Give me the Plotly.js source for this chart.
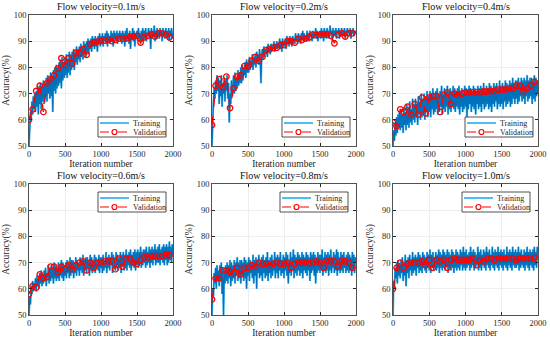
<!DOCTYPE html>
<html><head><meta charset="utf-8">
<script src="https://cdn.plot.ly/plotly-3.0.1.min.js"></script>
<style>html,body{margin:0;padding:0;background:#fff}#c{width:550px;height:339px}</style>
</head><body><div id="c"></div>
<script>
const titles = ["Flow velocity=0.1m/s","Flow velocity=0.2m/s","Flow velocity=0.4m/s","Flow velocity=0.6m/s","Flow velocity=0.8m/s","Flow velocity=1.0m/s"];
const seriesNames = ["Training","Validation"];
const trainStep = 10;
const valStep = 50;
const xTickVals = [0,500,1000,1500,2000];
const yTickVals = [50,60,70,80,90,100];

const train01 = [50,58,63,60,67,62,69,64,70,63, 71,65,73,62,72,66,74,64,73,67, 75,66,74,69,76,67,77,70,76,68, 78,69,77,63,79,71,80,70,81,72,
80,73,82,74,83,72,84,75,82,76, 84,77,85,76,83,78,86,77,85,79, 86,80,87,79,86,82,88,81,87,83, 88,82,89,84,88,83,90,85,89,84,
90,86,91,85,90,87,91,86,92,88, 91,87,92,88,91,86,92,89,93,88, 92,89,93,88,92,90,93,89,94,88, 93,90,92,89,94,90,93,88,94,91,
93,90,94,89,93,91,94,90,93,89, 94,91,93,88,94,90,95,91,93,89, 94,87,93,91,95,90,94,88,93,91, 94,90,95,91,93,89,94,91,95,90,
94,91,95,90,93,92,95,91,94,87, 95,91,94,92,96,90,94,91,95,92, 94,91,95,92,94,90,95,92,94,91, 95,92,94,91,95,90,94,92,95,91, 93];
const train02 = [50,62,67,72,68,75,70,77,71,76, 66,75,69,77,65,74,70,76,67,75, 71,77,68,74,59,70,66,75,69,73, 77,70,78,71,76,72,79,73,78,74,
80,74,81,75,80,77,82,76,83,78, 82,78,84,79,83,80,85,79,84,81, 85,80,86,82,85,81,87,83,74,84, 87,83,88,84,87,85,88,84,89,86,
88,85,89,86,88,87,90,86,89,87, 90,87,89,88,91,87,90,86,91,88, 90,88,91,87,92,89,91,88,92,89, 91,88,92,90,91,89,93,90,92,89,
93,90,92,89,93,91,94,90,93,91, 92,90,94,91,93,90,94,92,93,90, 94,91,93,92,95,91,94,90,93,92, 94,91,95,92,94,90,95,92,94,91,
95,92,94,91,96,93,94,90,95,92, 94,92,95,91,94,93,95,91,94,92, 95,92,94,93,95,91,94,92,95,93, 94,92,95,91,94,93,95,92,94,93, 94];
const train04 = [50,56,52,59,54,61,55,62,57,63, 56,64,57,62,55,65,58,63,56,66, 58,65,57,67,59,64,58,68,60,66, 59,68,61,66,58,69,62,67,60,70,
61,68,62,70,60,69,63,71,61,69, 63,71,61,70,64,72,62,69,63,71, 64,72,62,70,63,71,65,73,62,70, 64,72,63,71,65,73,62,71,64,72,
63,71,65,73,64,72,63,71,65,72, 64,73,62,71,65,72,63,70,64,73, 65,72,61,71,64,73,66,72,63,71, 65,73,64,72,62,71,66,73,64,72,
65,73,63,72,66,74,64,71,65,73, 66,72,64,74,65,73,63,72,66,74, 65,73,67,74,64,72,66,75,65,73, 66,74,64,73,67,75,65,74,66,73,
67,75,65,74,66,76,68,74,66,75, 68,75,66,76,67,74,69,76,67,75, 68,76,66,75,69,77,67,75,68,76, 69,76,66,75,68,77,67,76,69,75, 70];
const train06 = [50,57,54,61,58,63,59,62,60,64, 59,65,61,64,60,66,62,67,61,65, 62,67,63,68,61,66,64,69,62,68, 63,69,64,68,62,70,64,69,63,68,
64,70,63,69,65,71,64,70,63,69, 65,70,64,71,66,70,64,72,65,71, 66,71,64,70,66,72,65,71,67,70, 65,72,67,71,66,73,65,71,67,72,
66,72,68,71,65,73,67,72,66,71, 67,73,66,72,68,71,67,73,66,72, 68,72,66,73,67,71,68,74,66,72, 68,73,67,72,69,74,66,73,68,72,
67,74,69,73,67,72,68,74,66,73, 69,74,67,73,68,75,67,73,69,74, 68,75,67,73,69,74,68,75,67,74, 69,75,68,74,70,76,68,74,69,75,
70,75,68,76,69,74,70,76,68,75, 70,76,69,75,71,77,69,75,70,76, 70,77,69,75,71,76,70,77,69,76, 71,77,69,76,70,78,71,76,70,77, 73];
const train08 = [50,60,57,66,62,68,60,69,63,67, 61,69,63,70,58,68,50,67,62,69, 63,70,62,69,64,71,61,70,63,69, 64,71,62,70,65,72,63,70,64,71,
62,71,65,70,63,72,64,71,60,70, 65,72,63,71,66,70,64,73,62,71, 65,72,60,71,66,73,64,70,65,72, 63,73,66,71,64,72,65,74,63,71,
66,72,64,73,65,71,67,74,64,72, 66,73,64,72,67,74,65,71,66,73, 64,72,67,74,65,73,62,71,66,74, 65,72,67,75,64,73,66,72,65,74,
67,73,65,72,66,74,64,73,67,72, 66,74,65,73,67,72,63,74,66,73, 67,74,65,73,62,72,66,74,67,73, 66,73,67,75,65,72,67,74,66,73,
67,74,65,73,67,75,66,72,68,74, 66,73,67,75,65,74,67,72,66,74, 67,73,66,74,68,72,66,73,67,74, 66,73,67,72,65,74,67,73,66,72, 70];
const train10 = [50,63,60,68,64,70,62,71,65,69, 64,71,66,72,63,70,65,73,61,71, 66,72,64,73,67,71,65,74,66,72, 67,73,65,72,68,74,66,73,67,72,
66,74,68,73,67,72,66,74,68,73, 67,75,66,73,68,74,67,72,68,74, 67,73,68,75,66,74,68,73,67,75, 68,74,67,73,69,75,66,74,68,73,
67,75,68,74,66,73,68,75,67,74, 68,73,67,75,69,74,67,76,68,74, 67,75,68,73,69,74,67,76,68,74, 69,75,67,74,68,73,69,76,67,74,
68,75,67,73,69,75,68,74,67,76, 69,74,68,75,67,73,69,76,68,74, 67,75,69,74,68,76,67,74,69,75, 68,74,67,75,69,73,68,76,67,74,
69,75,68,74,67,76,69,74,68,75, 68,74,69,76,67,74,68,75,69,73, 68,75,67,74,69,76,68,74,67,75, 69,74,68,75,67,76,69,74,68,76, 72];

const val01 = [60,64,71,73,63,74,75.5,77,79.5,83.5,81,83.5,81.5,85.5,85.5,87,84.8,89,89.5,89.8,90,90.2,90.5,90,90.5,91,91,91,91.5,91.8,92,89.5,91.5,92,92.5,91.8,93,93,92.5,91.5];
const val02 = [58,73,75.5,72.5,76.5,64.5,72,76.5,77,80.5,80.5,82.5,84,82.5,84,86.5,87,87.5,87.5,88.5,88.5,90,90,89.5,91,90.5,91,91.5,92.5,92.3,92.5,92.5,92.5,92,89.2,92.5,93,91.8,93,93];
const val04 = [59,57.5,64,63,65,62,66,62,68.5,62.5,68.5,69,69,63,69.5,70.5,66,70,69.5,70,70.5,70.5,70.5,70.5,70.5,70.8,70.8,71,71,71.5,71.5,71.5,72,72,73,73,71,72,73,74.5];
const val06 = [58,61,60.5,65.5,64,64.5,68.5,68.5,66.5,68.5,67.5,69,67.5,69,70,70.5,67,70,68,70,70,70.5,70.5,70.5,67.5,71.5,68.5,71.5,71.5,70,69.5,71,72,72,72.5,72.5,72.5,72.5,73,72.8];
const val08 = [56,64,64,67,67,66.5,66,68,65.5,68,68,69,68.5,70,69.5,69.5,69,69.5,70,69.5,69.5,70,68,69.5,70,70,70,69.8,70,70.5,70,68,70.5,70.5,70.5,68.5,70.5,70.5,70,68];
const val10 = [60,68,70,68,69.5,70,70,70,70.5,69,71,68,71,70.5,71,68,71,71.5,71,71,71,71,71.5,69,71,70.5,71.5,71.5,71,71.5,71.5,71.5,71.5,71.5,71,71.5,71.5,71.5,71.5,71.8];

const trains = [train01,train02,train04,train06,train08,train10];
const vals = [val01,val02,val04,val06,val08,val10];

const W = 550, H = 339;
const colsPx = [[29,173],[212,356],[393,538]];
const rowsPx = [[15,146],[184,315]];
const legendBox = [[98,117],[282,117],[465,117],[98,192],[280,192],[462,192]];
const legW = 68, legH = 20;
const FONT = 'Liberation Serif, Times New Roman, serif';
const LIGHT = '#4DBEEE', DARK = '#0072BD', RED = '#FF0000', INK = '#262626';

const px = v => v / W, py = v => (H - v) / H;
const traces = [];
const layout = {
  width: W, height: H, margin:{l:0,r:0,t:0,b:0},
  paper_bgcolor:'#fff', plot_bgcolor:'#fff', showlegend:false,
  font:{family:FONT, size:9, color:INK}, annotations:[], shapes:[]
};
for (let i=0;i<6;i++){
  const r = Math.floor(i/3), c = i%3;
  const sfx = i===0 ? '' : String(i+1);
  const xa = 'x'+sfx, ya = 'y'+sfx;
  const tx = trains[i].map((_,k)=>k*trainStep);
  const vx = vals[i].map((_,k)=>k*valStep);
  traces.push({x:tx,y:trains[i],xaxis:xa,yaxis:ya,type:'scatter',mode:'lines',name:seriesNames[0],
    line:{color:LIGHT,width:2.0}});
  traces.push({x:tx,y:trains[i],xaxis:xa,yaxis:ya,type:'scatter',mode:'lines',name:seriesNames[0],
    line:{color:DARK,width:1.1}});
  traces.push({x:vx,y:vals[i],xaxis:xa,yaxis:ya,type:'scatter',mode:'lines+markers',name:seriesNames[1],
    line:{color:RED,width:1.3,dash:'dash'},marker:{symbol:'circle-open',size:5.5,color:RED,line:{width:1.3}}});
  const common = {ticks:'inside', ticklen:3, tickcolor:INK, showline:true, linecolor:INK, linewidth:0.8,
    mirror:'ticks', showgrid:true, gridcolor:'#e3e3e3', gridwidth:0.6, zeroline:false,
    tickfont:{family:FONT,size:8.5,color:INK}};
  layout['xaxis'+sfx] = Object.assign({}, common, {
    domain:[px(colsPx[c][0]), px(colsPx[c][1])], anchor:ya, range:[0,2000], tickvals:xTickVals,
    title:{text:'Iteration number', font:{family:FONT,size:9.5,color:INK}, standoff:1}});
  layout['yaxis'+sfx] = Object.assign({}, common, {
    domain:[py(rowsPx[r][1]), py(rowsPx[r][0])], anchor:xa, range:[50,100], tickvals:yTickVals,
    title:{text:'Accuracy(%)', font:{family:FONT,size:9.5,color:INK}, standoff:2}});
  layout.annotations.push({text:titles[i], xref:'paper', yref:'paper',
    x:px((colsPx[c][0]+colsPx[c][1])/2), y:py(rowsPx[r][0]-1), xanchor:'center', yanchor:'bottom',
    showarrow:false, font:{family:FONT,size:10,color:'#111'}});
  const [L,T] = legendBox[i];
  layout.shapes.push({type:'rect', xref:'paper', yref:'paper', x0:px(L), x1:px(L+legW), y0:py(T), y1:py(T+legH),
    line:{color:INK,width:0.8}, fillcolor:'#fff', layer:'above'});
  layout.shapes.push({type:'line', xref:'paper', yref:'paper', x0:px(L+2), x1:px(L+31), y0:py(T+6), y1:py(T+6),
    line:{color:LIGHT,width:2}, layer:'above'});
  layout.shapes.push({type:'line', xref:'paper', yref:'paper', x0:px(L+2), x1:px(L+31), y0:py(T+15), y1:py(T+15),
    line:{color:RED,width:1.2,dash:'dash'}, layer:'above'});
  layout.shapes.push({type:'circle', xref:'paper', yref:'paper', x0:px(L+14), x1:px(L+19), y0:py(T+12.5), y1:py(T+17.5),
    line:{color:RED,width:1.2}, fillcolor:'rgba(0,0,0,0)', layer:'above'});
  layout.annotations.push({text:seriesNames[0], xref:'paper', yref:'paper', x:px(L+33), y:py(T+6),
    xanchor:'left', yanchor:'middle', showarrow:false, font:{family:FONT,size:8,color:INK}});
  layout.annotations.push({text:seriesNames[1], xref:'paper', yref:'paper', x:px(L+33), y:py(T+15),
    xanchor:'left', yanchor:'middle', showarrow:false, font:{family:FONT,size:8,color:INK}});
}
Plotly.newPlot('c', traces, layout, {staticPlot:true, displayModeBar:false});
</script></body></html>
